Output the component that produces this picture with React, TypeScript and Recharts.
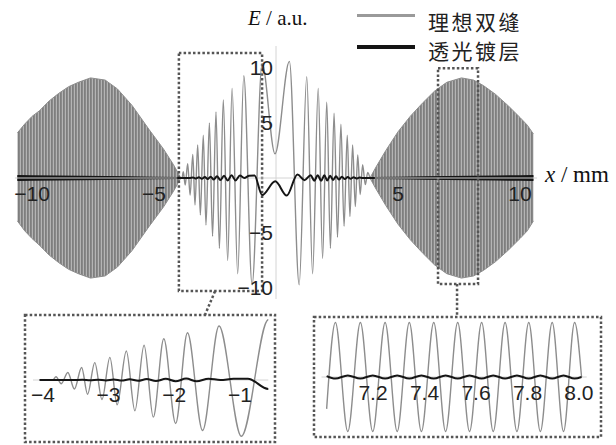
import React from "react";
import { ComposedChart, Line, Area, XAxis, YAxis, ReferenceLine, ReferenceArea, ReferenceDot } from "recharts";

// 理想双缝: turning points of the resolved oscillations near the centre (x in mm, E in a.u.)
const grayX = [-4.05, -3.85, -3.8, -3.72, -3.62, -3.52, -3.41, -3.32, -3.21, -3.1, -2.98, -2.87, -2.73, -2.6, -2.46, -2.32, -2.16, -1.98, -1.8, -1.57, -1.32, -0.98, -0.57, -0.04, 0.55, 0.95, 1.26, 1.5, 1.73, 1.91, 2.08, 2.23, 2.38, 2.52, 2.66, 2.79, 2.92, 3.03, 3.14, 3.25, 3.35, 3.45, 3.55, 3.66, 3.76, 3.85];
const grayE = [0, 0, 0.57, -0.64, 1.3, -1.55, 2.15, -2.45, 3.0, -3.36, 3.9, -4.27, 5.0, -5.3, 6.0, -6.4, 7.1, -7.5, 8.15, -8.7, 9.3, -9.7, 10.4, 2.2, 10.6, -9.7, 9.2, -8.7, 8.15, -7.3, 6.9, -6.4, 5.9, -5.4, 4.9, -4.4, 3.9, -3.5, 3.0, -2.6, 2.1, -1.5, 1.2, -0.6, 0.5, 0];

// 理想双缝: envelope of the dense outer lobes (too fine to resolve at this scale)
const lobeLeftX = [-10.6, -10.3, -10.0, -9.7, -9.3, -8.9, -8.5, -8.1, -7.6, -7.0, -6.5, -5.9, -5.2, -4.6, -4.2, -3.9];
const lobeLeftHi = [4.1, 4.9, 5.6, 6.1, 7.0, 7.7, 8.3, 8.7, 9.1, 8.9, 8.1, 6.6, 4.4, 2.6, 1.2, 0];
const lobeLeftLo = [-3.9, -4.8, -5.5, -6.1, -7.0, -7.7, -8.3, -8.7, -9.1, -8.9, -8.1, -6.6, -4.4, -2.6, -1.2, 0];
const lobeRightX = [3.85, 4.1, 4.5, 5.0, 5.5, 6.0, 6.5, 7.0, 7.6, 8.1, 8.5, 9.0, 9.5, 10.0, 10.3, 10.55];
const lobeRightHi = [0, 1.0, 2.5, 4.2, 5.6, 6.8, 7.9, 8.7, 9.1, 8.9, 8.4, 7.6, 6.6, 5.5, 4.8, 4.0];
const lobeRightLo = [0, -1.0, -2.5, -4.2, -5.6, -6.8, -7.9, -8.7, -9.1, -8.9, -8.4, -7.6, -6.6, -5.5, -4.8, -3.9];

// 透光镀层: turning points near the centre
const blackX = [-4.05, -3.55, -3.4, -3.28, -3.16, -3.04, -2.92, -2.8, -2.68, -2.55, -2.42, -2.28, -2.13, -1.98, -1.82, -1.66, -1.48, -1.3, -1.1, -0.88, -0.57, -0.03, 0.44, 0.88, 1.17, 1.42, 1.57, 1.71, 1.85, 1.98, 2.1, 2.22, 2.34, 2.46, 2.58, 2.7, 2.82, 2.94, 3.06, 3.18, 3.3, 3.42, 3.55, 4.05];
const blackE = [0, 0, 0.04, -0.05, 0.06, -0.07, 0.09, -0.1, 0.12, -0.14, 0.16, -0.18, 0.2, -0.22, 0.24, -0.22, 0.22, 0.0, 0.2, 0.22, -1.55, -0.3, -1.6, 0.32, -0.2, 0.25, -0.25, 0.25, -0.25, 0.24, -0.22, 0.2, -0.18, 0.16, -0.14, 0.12, -0.1, 0.08, -0.07, 0.06, -0.05, 0.04, 0, 0];

// 透光镀层: envelope of the dense band further out
const bandLeftX = [-10.6, -10.0, -9.0, -8.0, -7.0, -6.0, -5.0, -4.0, -3.5];
const bandLeftHi = [0.2, 0.19, 0.17, 0.14, 0.11, 0.08, 0.05, 0.02, 0.0];
const bandRightX = [3.5, 4.0, 5.0, 6.0, 7.0, 8.0, 9.0, 10.0, 10.55];
const bandRightHi = [0.0, 0.02, 0.05, 0.08, 0.11, 0.14, 0.17, 0.19, 0.2];

// zoom 2 (7.0–8.0 mm), individual fringes
const zoomGrayX = [7.02, 7.054, 7.102, 7.151, 7.199, 7.247, 7.294, 7.341, 7.388, 7.436, 7.482, 7.529, 7.575, 7.622, 7.667, 7.713, 7.759, 7.805, 7.85, 7.896, 7.94, 7.983, 8.01];
const zoomGrayE = [-5.5, 9.4, -9.4, 9.4, -9.4, 9.4, -9.4, 9.4, -9.4, 9.4, -9.4, 9.4, -9.4, 9.4, -9.4, 9.4, -9.4, 9.4, -9.4, 9.4, -9.4, 9.4, 0];
const zoomBlackE = [0.15, -0.28, 0.28, -0.28, 0.28, -0.28, 0.28, -0.28, 0.28, -0.28, 0.28, -0.28, 0.28, -0.28, 0.28, -0.28, 0.28, -0.28, 0.28, -0.28, 0.28, -0.28, 0];

const mainXTicks = [-10, -5, 5, 10];
const mainYTicks = [10, 5, -5, -10];
const zoom1Ticks = [-4, -3, -2, -1];
const zoom2Ticks = [7.2, 7.4, 7.6, 7.8, 8.0];

const rows = (xs: number[], ys: number[]) => xs.map((x, i) => ({ x, e: ys[i] }));
const band = (xs: number[], lo: number[], hi: number[]) => xs.map((x, i) => ({ x, band: [lo[i], hi[i]] }));
const neg = (a: number[]) => a.map((v) => -v);

const grayRows = rows(grayX, grayE);
const blackRows = rows(blackX, blackE);
const lobeLeft = band(lobeLeftX, lobeLeftLo, lobeLeftHi);
const lobeRight = band(lobeRightX, lobeRightLo, lobeRightHi);
const bandLeft = band(bandLeftX, neg(bandLeftHi), bandLeftHi);
const bandRight = band(bandRightX, neg(bandRightHi), bandRightHi);
const zoomGray = rows(zoomGrayX, zoomGrayE);
const zoomBlack = rows(zoomGrayX, zoomBlackE);

const GRAY = "#8d8d8d";
const BLACK = "#151515";
const DOT = { stroke: "#555", strokeWidth: 2.5, strokeDasharray: "2.5 2.2" };
const tickFont = { fontSize: 21, fontFamily: "Liberation Sans, Arial, sans-serif", fill: "#222" };

const minus = (v: number, digits = 0) => (v < 0 ? "\u2212" : "") + Math.abs(v).toFixed(digits);

export default function App() {
  return (
    <div style={{ position: "absolute", left: 0, top: 0, width: 616, height: 445, background: "#fff", overflow: "hidden" }}>
      {/* main plot */}
      <div style={{ position: "absolute", left: 0, top: 0 }}>
        <ComposedChart width={616} height={445} margin={{ top: 46, right: 71.6, bottom: 146, left: 7.6 }}>
          <defs>
            <pattern id="lobeFill" width="3" height="6" patternUnits="userSpaceOnUse">
              <rect width="3" height="6" fill="#b4b4b4" />
              <rect width="1.8" height="6" fill="#7e7e7e" />
            </pattern>
          </defs>
          <XAxis type="number" dataKey="x" domain={[-11, 11]} hide allowDataOverflow />
          <YAxis type="number" domain={[-11, 12]} hide allowDataOverflow />
          <ReferenceLine segment={[{ x: -10.7, y: 0 }, { x: 10.7, y: 0 }]} stroke="#d4d4d4" strokeWidth={1} />
          <ReferenceLine x={0} stroke="#d4d4d4" strokeWidth={1} />
          <Area data={lobeLeft} dataKey="band" type="linear" fill="url(#lobeFill)" fillOpacity={1} stroke={GRAY} strokeWidth={1} isAnimationActive={false} />
          <Area data={lobeRight} dataKey="band" type="linear" fill="url(#lobeFill)" fillOpacity={1} stroke={GRAY} strokeWidth={1} isAnimationActive={false} />
          <Line data={grayRows} dataKey="e" type="monotone" stroke={GRAY} strokeWidth={1.4} dot={false} isAnimationActive={false} />
          <Area data={bandLeft} dataKey="band" type="linear" fill={BLACK} fillOpacity={1} stroke={BLACK} strokeWidth={1.5} isAnimationActive={false} />
          <Area data={bandRight} dataKey="band" type="linear" fill={BLACK} fillOpacity={1} stroke={BLACK} strokeWidth={1.5} isAnimationActive={false} />
          <Line data={blackRows} dataKey="e" type="monotone" stroke={BLACK} strokeWidth={2} dot={false} isAnimationActive={false} />
          <ReferenceArea x1={-3.98} x2={-0.57} y1={-10.27} y2={11.36} fill="none" {...DOT} ifOverflow="visible" />
          <ReferenceArea x1={6.64} x2={8.28} y1={-9.64} y2={9.97} fill="none" {...DOT} ifOverflow="visible" />
          <ReferenceLine segment={[{ x: -2.5, y: -10.3 }, { x: -2.92, y: -12.5 }]} {...DOT} ifOverflow="visible" />
          <ReferenceLine segment={[{ x: 7.42, y: -9.64 }, { x: 7.42, y: -12.6 }]} {...DOT} ifOverflow="visible" />
          {mainXTicks.map((t) => (
            <ReferenceDot key={"x" + t} x={t} y={0} r={0} fill="none" stroke="none"
              label={{ value: minus(t), position: "bottom", offset: 8, ...tickFont }} />
          ))}
          {mainYTicks.map((t) => (
            <ReferenceDot key={"y" + t} x={0} y={t} r={0} fill="none" stroke="none"
              label={{ value: minus(t), position: "left", offset: 3, ...tickFont }} />
          ))}
        </ComposedChart>
      </div>

      {/* zoom 1: −4 … −0.6 mm */}
      <div style={{ position: "absolute", left: 0, top: 300 }}>
        <ComposedChart width={300} height={145} margin={{ top: 16.2, right: 31.7, bottom: 1.2, left: 33 }}>
          <XAxis type="number" dataKey="x" domain={[-4.15, -0.57]} hide allowDataOverflow />
          <YAxis type="number" domain={[-11, 11]} hide allowDataOverflow />
          <ReferenceLine y={0} stroke="#d4d4d4" strokeWidth={1} />
          <Line data={grayRows} dataKey="e" type="monotone" stroke={GRAY} strokeWidth={1.4} dot={false} isAnimationActive={false} />
          <Line data={blackRows} dataKey="e" type="monotone" stroke={BLACK} strokeWidth={2} dot={false} isAnimationActive={false} />
          {zoom1Ticks.map((t) => (
            <ReferenceDot key={t} x={t} y={0} r={0} fill="none" stroke="none"
              label={{ value: minus(t), position: "bottom", offset: 7, ...tickFont }} />
          ))}
        </ComposedChart>
      </div>

      {/* zoom 2: 7.0 … 8.0 mm */}
      <div style={{ position: "absolute", left: 306, top: 300 }}>
        <ComposedChart width={310} height={145} margin={{ top: 13.2, right: 29.3, bottom: 4.2, left: 15.5 }}>
          <XAxis type="number" dataKey="x" domain={[7.0, 8.03]} hide allowDataOverflow />
          <YAxis type="number" domain={[-11, 11]} hide allowDataOverflow />
          <ReferenceLine y={0} stroke="#d4d4d4" strokeWidth={1} />
          <Line data={zoomGray} dataKey="e" type="monotone" stroke={GRAY} strokeWidth={1.4} dot={false} isAnimationActive={false} />
          <Line data={zoomBlack} dataKey="e" type="monotone" stroke={BLACK} strokeWidth={2} dot={false} isAnimationActive={false} />
          {zoom2Ticks.map((t) => (
            <ReferenceDot key={t} x={t} y={0} r={0} fill="none" stroke="none"
              label={{ value: t.toFixed(1), position: "bottom", offset: 8, ...tickFont }} />
          ))}
        </ComposedChart>
      </div>

      {/* frames of the two zoom panels */}
      <svg width={616} height={445} style={{ position: "absolute", left: 0, top: 0, pointerEvents: "none" }}>
        <rect x={25} y={315} width={250} height={127} fill="none" {...DOT} />
        <rect x={314} y={317} width={287} height={120} fill="none" {...DOT} />
      </svg>

      {/* axis titles */}
      <div style={{ position: "absolute", left: 248, top: 6, fontFamily: "Liberation Serif, serif", fontSize: 21, color: "#111", whiteSpace: "nowrap" }}>
        <i>E</i> / a.u.
      </div>
      <div style={{ position: "absolute", left: 545, top: 162, fontFamily: "Liberation Serif, serif", fontSize: 23, color: "#111", whiteSpace: "nowrap" }}>
        <i>x</i> / mm
      </div>

      {/* legend */}
      <div style={{ position: "absolute", left: 357, top: 14, width: 58, height: 2.5, background: "#9a9a9a" }} />
      <div style={{ position: "absolute", left: 357, top: 45, width: 58, height: 3.5, background: BLACK }} />
      <div style={{ position: "absolute", left: 428, top: 6, fontFamily: "Noto Sans CJK SC, sans-serif", fontSize: 21, letterSpacing: 2.5, color: "#222", whiteSpace: "nowrap" }}>理想双缝</div>
      <div style={{ position: "absolute", left: 428, top: 35, fontFamily: "Noto Sans CJK SC, sans-serif", fontSize: 21, letterSpacing: 2.5, color: "#222", whiteSpace: "nowrap" }}>透光镀层</div>
    </div>
  );
}
